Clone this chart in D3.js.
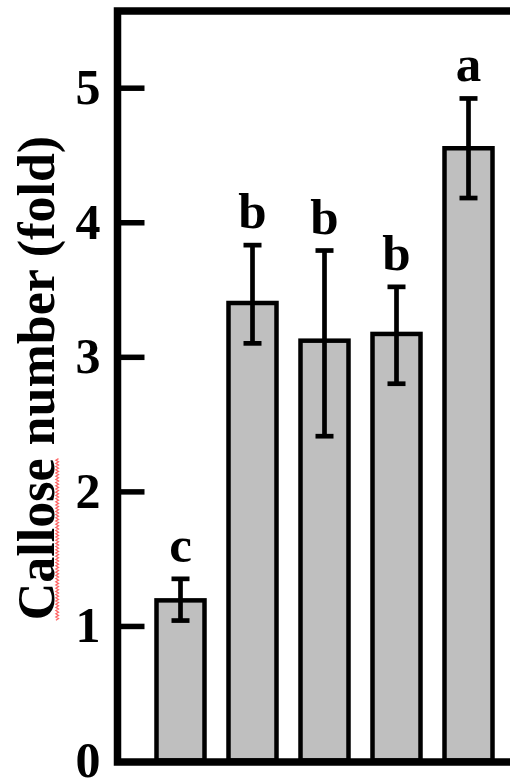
<!DOCTYPE html>
<html>
<head>
<meta charset="utf-8">
<script src="https://cdn.jsdelivr.net/npm/d3@7"></script>
<style>
  html, body { margin: 0; padding: 0; background: #fff; }
  svg { display: block; }
  text { font-family: "Liberation Serif", "Times New Roman", serif; font-weight: bold; }
</style>
</head>
<body>
<svg id="chart" width="510" height="778"></svg>
<script>
// Five treatment groups, callose deposition relative to control
const groups = ["G1", "G2", "G3", "G4", "G5"];
const means = [1.19, 3.40, 3.12, 3.17, 4.55];
const errHigh = [1.35, 3.83, 3.79, 3.52, 4.92];
const errLow = [1.04, 3.10, 2.41, 2.80, 4.18];
const letters = ["c", "b", "b", "b", "a"];
const yTicks = [0, 1, 2, 3, 4, 5];
const yMax = 5.57;
const yTitle = "Callose number (fold)";

const svg = d3.select("#chart");

const y = d3.scaleLinear().domain([0, yMax]).range([760.5, 11]);
const x = d3.scaleBand()
  .domain(groups)
  .range([144.5, 504.5])
  .paddingInner(1 / 3)
  .paddingOuter(1 / 6);

const frameLeft = 117.5;
const frameRight = 530;

// Bars
svg.append("g")
  .selectAll("rect")
  .data(groups)
  .join("rect")
  .attr("x", d => x(d))
  .attr("y", (d, i) => y(means[i]))
  .attr("width", x.bandwidth())
  .attr("height", (d, i) => y(0) - y(means[i]))
  .attr("fill", "#bfbfbf")
  .attr("stroke", "#000")
  .attr("stroke-width", 4.5);

// Error bars
const eb = svg.append("g").attr("stroke", "#000").attr("stroke-width", 4.7);
const capHalf = 9;
groups.forEach((g, i) => {
  const cx = x(g) + x.bandwidth() / 2;
  eb.append("line").attr("x1", cx).attr("x2", cx)
    .attr("y1", y(errLow[i])).attr("y2", y(errHigh[i]));
  eb.append("line").attr("x1", cx - capHalf).attr("x2", cx + capHalf)
    .attr("y1", y(errHigh[i])).attr("y2", y(errHigh[i]));
  eb.append("line").attr("x1", cx - capHalf).attr("x2", cx + capHalf)
    .attr("y1", y(errLow[i])).attr("y2", y(errLow[i]));
});

// Significance letters
svg.append("g")
  .selectAll("text")
  .data(groups)
  .join("text")
  .attr("x", d => x(d) + x.bandwidth() / 2)
  .attr("y", (d, i) => y(errHigh[i]) - 17)
  .attr("text-anchor", "middle")
  .attr("font-size", 51)
  .attr("fill", "#000")
  .text((d, i) => letters[i]);

// Frame
svg.append("rect")
  .attr("x", frameLeft)
  .attr("y", y(yMax))
  .attr("width", frameRight - frameLeft)
  .attr("height", y(0) + 1.5 - y(yMax))
  .attr("fill", "none")
  .attr("stroke", "#000")
  .attr("stroke-width", 7.5);

// Y axis ticks and labels
const yAxis = d3.axisLeft(y)
  .tickValues(yTicks)
  .tickFormat(d3.format("d"))
  .tickSize(0)
  .tickPadding(17);
const ya = svg.append("g")
  .attr("transform", `translate(${frameLeft},0)`)
  .call(yAxis);
ya.select(".domain").remove();
ya.selectAll(".tick text")
  .attr("font-size", 50)
  .attr("font-family", "'Liberation Serif', 'Times New Roman', serif")
  .attr("font-weight", "bold")
  .attr("fill", "#000");
ya.selectAll(".tick")
  .filter(d => d > 0)
  .append("line")
  .attr("x1", 3).attr("x2", 27)
  .attr("stroke", "#000")
  .attr("stroke-width", 5.5);

// Y axis title
const titleG = svg.append("g").attr("transform", "translate(54,378) rotate(-90)");
const title = titleG.append("text")
  .attr("text-anchor", "middle")
  .attr("font-size", 52)
  .attr("fill", "#000")
  .text(yTitle);

// Spell-check style wavy underline under the first word
const node = title.node();
const full = node.getComputedTextLength();
const wordLen = node.getSubStringLength(0, 7);
const x0 = -full / 2;
const pts = [];
for (let t = 0; t <= wordLen; t += 1.6) {
  pts.push([x0 + t, 3.2 + (Math.round(t / 1.6) % 2 ? 1.3 : -1.3)]);
}
titleG.append("path")
  .attr("d", d3.line()(pts))
  .attr("fill", "none")
  .attr("stroke", "#ff6666")
  .attr("stroke-width", 1.3);
</script>
</body>
</html>
